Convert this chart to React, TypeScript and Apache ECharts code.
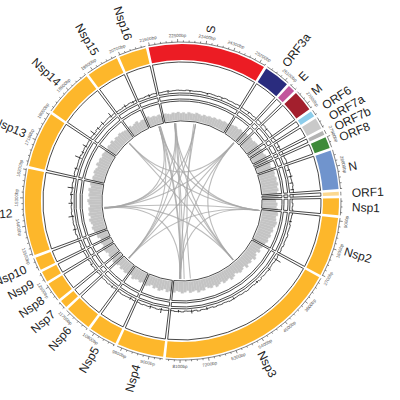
import React, { useEffect, useRef } from "react";
import * as echarts from "echarts";

// ---------- data ----------
const geneNames = ["Nsp1","Nsp2","Nsp3","Nsp4","Nsp5","Nsp6","Nsp7","Nsp8","Nsp9","Nsp10","Nsp12","Nsp13","Nsp14","Nsp15","Nsp16","S","ORF3a","E","M","ORF6","ORF7a","ORF7b","ORF8","N","ORF1"];
const geneStarts = [266,806,2720,8555,10055,10973,11843,12092,12686,13025,13442,16237,18040,19621,20659,21563,25393,26245,26523,27202,27394,27756,27894,28274,29558];
const geneEnds = [805,2719,8554,10054,10972,11842,12091,12685,13024,13441,16236,18039,19620,20658,21552,25384,26220,26472,27191,27387,27759,27887,28259,29533,29674];
const geneColors = [
  "#FDB72B","#FDB72B","#FDB72B","#FDB72B","#FDB72B","#FDB72B","#FDB72B","#FDB72B","#FDB72B","#FDB72B",
  "#FDB72B","#FDB72B","#FDB72B","#FDB72B","#FDB72B",
  "#EC1C24","#2A2C7E","#C2559C","#A31F2D","#8DCDEB","#C9C9C9","#B3B3B3","#3E8A3A","#7094CD","#FCD88E"
];

// coverage histogram (gray track), one value per 150 bp bin, scale 0-100
const binSize = 150;
const grayCoverage = [
  60,68,72,80,76,84,88,79,83,90, 86,78,82,74,80,72,77,69,64,58,
  66,52,61,70,55,63,57,68,50,59, 64,56,48,60,67,53,58,62,49,57,
  65,51,60,55,47,62,58,66,52,56, 61,49,57,63,54,50,59,55,62,48,
  57,64,52,59,46,55,61,53,58,50, 56,63,49,54,60,52,58,47,55,61,
  53,57,50,59,62,51,56,48,60,58, 66,72,63,70,76,65,74,68,71,62,
  69,75,64,70,66,73,61,68,60,64, 58,66,62,55,68,60,64,57,63,59,
  55,62,57,65,52,60,56,63,58,54, 50,57,48,54,59,46,52,49,55,45,
  48,42,46,38,44,40,36,43,39,45, 37,42,35,44,40,38,46,41,36,43,
  39,45,41,47,43,50,46,52,48,55, 58,62,57,65,60,68,63,70,66,72,
  74,70,77,73,80,76,82,78,85,88, 83,90,86,92,84,89,80,86,75,70
];
// depth line (black track), one value per 150 bp bin, scale 0-100
const lineDepth = [
  5,6,4,7,5,8,6,5,4,7, 6,5,8,6,5,7,4,6,5,7,
  6,4,5,7,5,6,4,8,5,6, 4,5,7,5,6,4,5,6,7,5,
  4,6,5,7,4,5,6,5,8,4, 6,5,4,7,5,6,4,5,6,5,
  7,5,4,6,5,7,5,6,4,5, 6,7,5,4,6,5,7,5,6,4,
  6,5,7,4,6,5,6,7,5,6, 5,8,6,5,7,6,5,8,6,7,
  5,7,6,8,5,6,7,5,6,8, 7,5,6,7,8,5,6,7,5,6,
  7,6,5,8,6,7,5,6,7,5, 6,5,4,6,5,7,5,6,5,4,
  6,5,7,6,5,6,7,5,6,7, 6,5,7,6,5,6,7,6,5,7,
  6,5,7,6,8,6,7,6,8,7, 6,7,8,6,7,8,7,9,7,8,
  8,7,9,8,7,9,8,10,9,8, 9,10,8,9,11,9,10,8,9,8
];
const spikePositions = [1200,2965,3500,4300,5600,6900,7600,8200,8900,9400,10300,11200,12400,13900,14500,15100,15500,15800,16600,17117,17400,17700,18300,18600,18900,19400,20100,20500,21200,22000,23000,23800,24500,25800,26800,27600,28500,28800,29100,29400];
const spikeHeights = [10,25,12,9,8,10,14,9,18,12,10,9,8,14,20,16,11,22,12,25,10,18,22,12,16,20,12,9,10,8,7,7,6,9,10,11,12,15,10,12];

// links between genome positions
const linkFrom = [21214,21300,22175,22250,23512,23400,21214,22175,23512,14750,14750,14700,14800,14750,880,880,880,880,26200,26200,19178,19178,14750,14750,26200,880,11535,4459];
const linkTo =   [8162,8100,8200,7900,8162,7500,11535,4459,11535,880,26200,23512,4459,8162,21214,19178,11535,22175,8162,11535,4459,26200,21214,22175,4459,8162,22175,21300];

const majorStep = 900;
const minorStep = 180;

// ---------- layout ----------
const GAP_DEG = 1;
const START_ANGLE = 1;
const CENTER = [182, 201];
const lens = geneStarts.map((s, i) => geneEnds[i] - s + 1);
const totalLen = lens.reduce((a, b) => a + b, 0);
const gapUnits = (totalLen / (360 - GAP_DEG * geneNames.length)) * GAP_DEG;
const offsets: number[] = [];
let acc = 0;
for (let i = 0; i < lens.length; i++) { offsets.push(acc); acc += lens[i] + gapUnits; }
const axisMax = acc;

const toVirtual = (i: number, p: number) => offsets[i] + (p - geneStarts[i]);
const geneOf = (p: number) => {
  let best = 0, bd = Infinity;
  for (let i = 0; i < geneStarts.length; i++) {
    if (p >= geneStarts[i] && p <= geneEnds[i]) return i;
    const d = Math.min(Math.abs(p - geneStarts[i]), Math.abs(p - geneEnds[i]));
    if (d < bd) { bd = d; best = i; }
  }
  return best;
};
const posVirtual = (p: number) => {
  const i = geneOf(p);
  const q = Math.max(geneStarts[i], Math.min(geneEnds[i], p));
  return toVirtual(i, q);
};

const FONT = "'Liberation Sans', Arial, Helvetica, sans-serif";

function angleOf(api: any, cs: any, v: number) {
  const p = api.coord([50, v]);
  return Math.atan2(p[1] - cs.cy, p[0] - cs.cx);
}
function rpx(api: any, cs: any, r: number, v: number) {
  const p = api.coord([r, v]);
  return Math.hypot(p[0] - cs.cx, p[1] - cs.cy);
}
function sector(api: any, cs: any, r0: number, r1: number, v0: number, v1: number, style: any) {
  const s = angleOf(api, cs, v0);
  let e = angleOf(api, cs, v1);
  while (e < s) e += Math.PI * 2;
  return {
    type: "sector",
    shape: { cx: cs.cx, cy: cs.cy, r0: rpx(api, cs, r0, v0), r: rpx(api, cs, r1, v0), startAngle: s, endAngle: e, clockwise: true },
    style,
  };
}
function arcEl(api: any, cs: any, r: number, v0: number, v1: number, style: any) {
  const s = angleOf(api, cs, v0);
  let e = angleOf(api, cs, v1);
  while (e < s) e += Math.PI * 2;
  return { type: "arc", shape: { cx: cs.cx, cy: cs.cy, r: rpx(api, cs, r, v0), startAngle: s, endAngle: e, clockwise: true }, style };
}

const BOX = { fill: "none", stroke: "#1a1a1a", lineWidth: 0.8 };

function renderGene(params: any, api: any) {
  const i = api.value(2);
  const cs = params.coordSys;
  const v0 = offsets[i], v1 = offsets[i] + lens[i];
  const children: any[] = [];
  children.push(sector(api, cs, 141, 157, v0, v1, { fill: geneColors[i] }));
  children.push(sector(api, cs, 108, 139, v0, v1, BOX));
  children.push(sector(api, cs, 102, 106, v0, v1, BOX));
  children.push(sector(api, cs, 80, 100, v0, v1, BOX));
  children.push(arcEl(api, cs, 159, v0, v1, { fill: "none", stroke: "#333", lineWidth: 0.6 }));
  for (let p = Math.ceil(geneStarts[i] / minorStep) * minorStep; p <= geneEnds[i]; p += minorStep) {
    const v = toVirtual(i, p);
    const major = p % majorStep === 0;
    const a = api.coord([159, v]);
    const b = api.coord([major ? 162 : 160.6, v]);
    children.push({ type: "line", shape: { x1: a[0], y1: a[1], x2: b[0], y2: b[1] }, style: { stroke: "#333", lineWidth: 0.6 } });
    if (major) {
      const t = api.coord([165.5, v]);
      const th = Math.atan2(t[1] - cs.cy, t[0] - cs.cx);
      const rot = Math.sin(th) < 0 ? -(th + Math.PI / 2) : -(th - Math.PI / 2);
      children.push({
        type: "text", x: t[0], y: t[1], rotation: rot,
        style: { text: p + "bp", fontSize: 4.5, fontFamily: FONT, fill: "#555", align: "center", verticalAlign: "middle" },
      });
    }
  }
  const mid = (v0 + v1) / 2;
  const lp = api.coord([170, mid]);
  const th = Math.atan2(lp[1] - cs.cy, lp[0] - cs.cx);
  const right = Math.cos(th) >= -0.0001;
  children.push({
    type: "text", x: lp[0], y: lp[1], rotation: right ? -th : Math.PI - th,
    style: { text: geneNames[i], fontSize: 12, fontFamily: FONT, fill: "#222", align: right ? "left" : "right", verticalAlign: "middle" },
  });
  return { type: "group", children };
}

// gray segments
const graySegs: number[][] = [];
geneStarts.forEach((gs, i) => {
  const ge = geneEnds[i];
  for (let b = Math.floor(gs / binSize); b * binSize <= ge; b++) {
    const a0 = Math.max(gs, b * binSize), a1 = Math.min(ge + 1, (b + 1) * binSize);
    if (a1 > a0) graySegs.push([grayCoverage[b], toVirtual(i, a0), toVirtual(i, a1)]);
  }
});

function renderGray(params: any, api: any) {
  const cs = params.coordSys;
  return sector(api, cs, 0, api.value(0), api.value(1), api.value(2), { fill: "#C4C4C4", stroke: "#C4C4C4", lineWidth: 0.3 });
}

function renderLine(params: any, api: any) {
  const i = api.value(2);
  const gs = geneStarts[i], ge = geneEnds[i];
  const pts: number[][] = [];
  for (let b = Math.floor(gs / binSize); b * binSize <= ge; b++) {
    const a0 = Math.max(gs, b * binSize), a1 = Math.min(ge + 1, (b + 1) * binSize);
    pts.push(api.coord([lineDepth[b], toVirtual(i, a0)]));
    pts.push(api.coord([lineDepth[b], toVirtual(i, a1)]));
  }
  return { type: "polyline", shape: { points: pts }, style: { fill: "none", stroke: "#111", lineWidth: 0.7 } };
}

function renderSpike(params: any, api: any) {
  const a = api.coord([0, api.value(1)]);
  const b = api.coord([api.value(0), api.value(1)]);
  return { type: "line", shape: { x1: a[0], y1: a[1], x2: b[0], y2: b[1] }, style: { stroke: "#111", lineWidth: 0.8 } };
}

function renderLink(params: any, api: any) {
  const cs = params.coordSys;
  const a = api.coord([api.value(0), api.value(1)]);
  const b = api.coord([api.value(0), api.value(2)]);
  return {
    type: "bezierCurve",
    shape: { x1: a[0], y1: a[1], x2: b[0], y2: b[1], cpx1: cs.cx, cpy1: cs.cy },
    style: { fill: "none", stroke: "rgba(165,165,165,0.75)", lineWidth: 1.1 },
  };
}

const polarRadii = [[0, 160], [81, 99], [109, 137]];
const radiusMax = [160, 100, 100];

const option: any = {
  animation: false,
  polar: polarRadii.map((r) => ({ center: CENTER, radius: r })),
  angleAxis: polarRadii.map((_, k) => ({ polarIndex: k, type: "value", min: 0, max: axisMax, startAngle: START_ANGLE, clockwise: true, show: false })),
  radiusAxis: polarRadii.map((_, k) => ({ polarIndex: k, type: "value", min: 0, max: radiusMax[k], show: false })),
  series: [
    {
      type: "custom", coordinateSystem: "polar", polarIndex: 0, silent: true,
      renderItem: renderLink,
      data: linkFrom.map((p, k) => [78, posVirtual(p), posVirtual(linkTo[k])]),
    },
    {
      type: "custom", coordinateSystem: "polar", polarIndex: 1, silent: true,
      renderItem: renderGray, data: graySegs,
    },
    {
      type: "custom", coordinateSystem: "polar", polarIndex: 0, silent: true,
      renderItem: renderGene,
      data: geneNames.map((_, i) => [150, offsets[i] + lens[i] / 2, i]),
    },
    {
      type: "custom", coordinateSystem: "polar", polarIndex: 2, silent: true,
      renderItem: renderLine,
      data: geneNames.map((_, i) => [5, offsets[i] + lens[i] / 2, i]),
    },
    {
      type: "custom", coordinateSystem: "polar", polarIndex: 2, silent: true,
      renderItem: renderSpike,
      data: spikePositions.map((p, k) => [spikeHeights[k], posVirtual(p)]),
    },
  ],
};

export default function App() {
  const ref = useRef<HTMLDivElement>(null);
  useEffect(() => {
    const chart = echarts.init(ref.current as HTMLDivElement, null, { renderer: "svg" });
    chart.setOption(option);
    return () => chart.dispose();
  }, []);
  return <div ref={ref} style={{ position: "absolute", left: 0, top: 0, width: 400, height: 400, background: "#fff" }} />;
}
